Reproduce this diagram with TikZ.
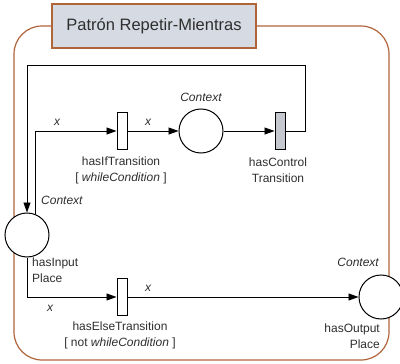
\documentclass[tikz,border=0pt]{standalone}
\usepackage{fontspec}
\setmainfont{Liberation Sans}
\usetikzlibrary{arrows.meta}

\definecolor{framebrown}{HTML}{B0643A}
\definecolor{titlefill}{HTML}{D6DAE2}
\definecolor{ctrlgray}{HTML}{C6C8D0}
\definecolor{txtgray}{HTML}{2E2E2E}

\begin{document}
\begin{tikzpicture}[
		x=1pt, y=-1pt,
		>={Triangle[length=10pt,width=7pt]},
		every node/.style={
				text=txtgray,
				font=\fontsize{12}{16}\selectfont
			},
		place/.style={
				draw=black,
				circle,
				line width=1pt,
				minimum size=44pt,
				inner sep=0pt,
				fill=white
			},
		trans/.style={
				draw=black,
				line width=1pt,
				minimum width=10pt,
				minimum height=37pt,
				inner sep=0pt,
				fill=white
			},
		arc/.style={->, line width=0.9pt},
		lbl/.style={inner sep=0pt, align=center},
		ctx/.style={inner sep=0pt, font=\fontsize{12}{16}\selectfont\itshape}
	]

	\useasboundingbox (0,0) rectangle (400,364);

	% frame and title
	\draw[framebrown, line width=1.2pt, rounded corners=28pt]
	(14,26) rectangle (389,360);
	\node (title) at (154,26) [
		draw=framebrown,
		line width=1.2pt,
		fill=titlefill,
		minimum width=204pt,
		minimum height=44pt,
		font=\fontsize{16.5}{20}\selectfont
	] {Patrón Repetir-Mientras};

	% places and transitions
	\node[place] (input) at (27,235) {};
	\node[place] (ctxplace) at (201,131) {};
	\node[place] (output) at (381,297) {};
	\node[trans] (iftr) at (122,131) {};
	\node[trans, fill=ctrlgray] (ctrl) at (280,131) {};
	\node[trans] (elsetr) at (122,297) {};

	\coordinate (loopR) at (305,65);

	% arcs
	\draw[arc] (input.69) |- (iftr.west);
	\draw[arc] (iftr.east) -- (ctxplace.west);
	\draw[arc] (ctxplace.east) -- (ctrl.west);
	\draw[arc] (ctrl.east) -| (loopR) -| (input.north);
	\draw[arc] (input.south) |- (elsetr.west);
	\draw[arc] (elsetr.east) -- (output.west);

	% labels
	\node[ctx] (xin) at (57,122) {x};
	\node[ctx] (xif) at (148,122) {x};
	\node[ctx] (xelse) at (50,308) {x};
	\node[ctx] (xout) at (148,288) {x};

	\node[ctx] (ctxmid) at (201,97) {Context};
	\node[ctx, anchor=west] (ctxin) at (41,200) {Context};
	\node[ctx, anchor=east] (ctxout) at (379,262) {Context};

	\node[lbl] (iflbl) at (121,170)
	{hasIfTransition\\{}[ \textit{whileCondition} ]};
	\node[lbl] (ctrllbl) at (278,170)
	{hasControl\\Transition};
	\node[lbl, align=left, anchor=west] (inlbl) at (32,270)
	{hasInput\\Place};
	\node[lbl, align=right, anchor=east] (outlbl) at (380,336)
	{hasOutput\\Place};
	\node[lbl] (elselbl) at (120,335)
	{hasElseTransition\\{}[ not \textit{whileCondition} ]};

\end{tikzpicture}
\end{document}
